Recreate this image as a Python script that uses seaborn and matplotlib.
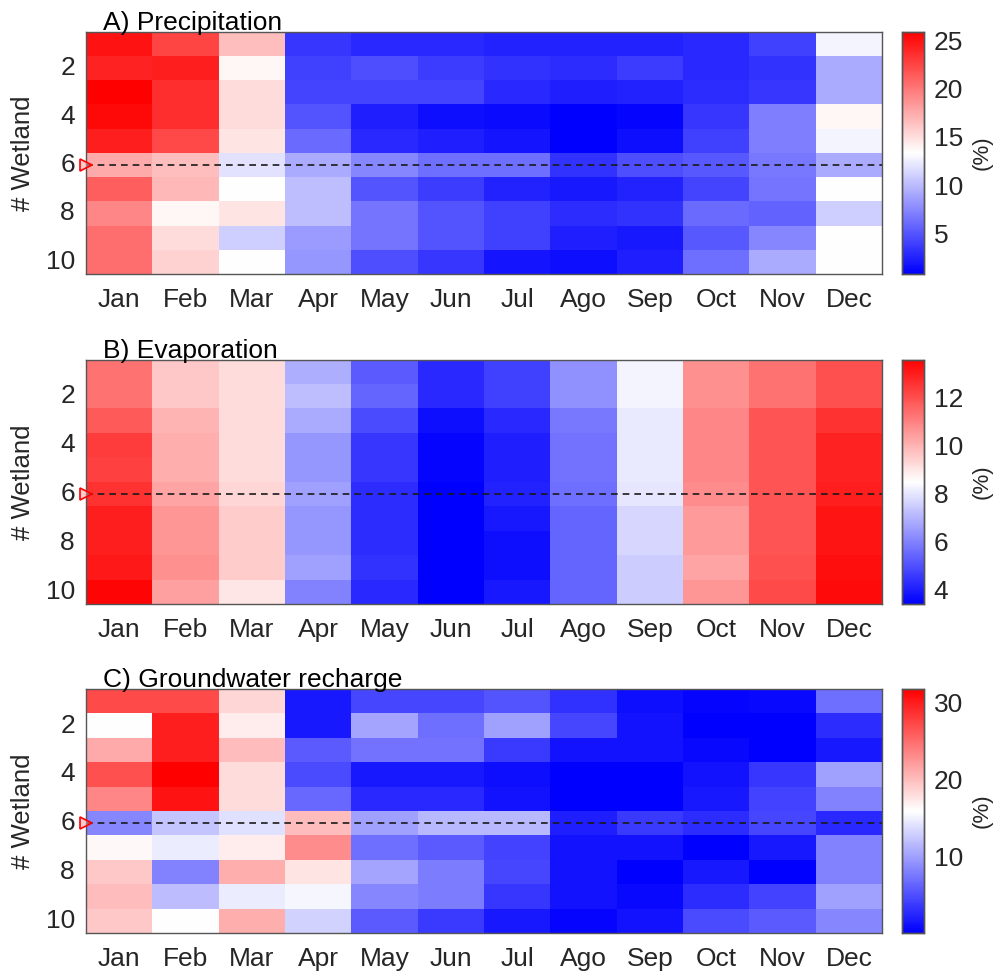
import numpy as np
import pandas as pd
import matplotlib
matplotlib.use("Agg")
import matplotlib.pyplot as plt
import seaborn as sns

sns.set_style("white")
plt.rcParams['font.family'] = ['Liberation Sans', 'DejaVu Sans']

months = ["Jan", "Feb", "Mar", "Apr", "May", "Jun", "Jul", "Ago", "Sep", "Oct", "Nov", "Dec"]
wetlands = list(range(1, 11))

# Each list is one month (column), values for wetlands 1..10 (rows)
precip_jan = [25.0, 24.2, 25.9, 25.5, 24.4, 17.5, 21.2, 19.3, 20.5, 20.5]
precip_feb = [22.5, 24.4, 23.6, 23.6, 22.3, 16.5, 16.8, 13.8, 15.1, 15.6]
precip_mar = [16.5, 13.8, 15.1, 15.1, 14.7, 11.9, 13.3, 14.7, 10.9, 13.4]
precip_apr = [3.5, 4.0, 4.2, 5.0, 6.0, 9.2, 10.2, 10.2, 8.4, 8.2]
precip_may = [2.8, 4.7, 4.2, 2.3, 2.8, 7.4, 5.0, 6.5, 6.5, 4.7]
precip_jun = [2.8, 3.8, 4.2, 1.5, 2.3, 6.2, 3.8, 5.0, 5.0, 3.5]
precip_jul = [2.5, 3.3, 2.8, 1.3, 1.8, 6.2, 2.5, 4.0, 4.0, 1.8]
precip_ago = [2.5, 3.0, 2.3, 0.8, 0.8, 3.3, 2.0, 3.0, 2.3, 1.5]
precip_sep = [2.5, 3.8, 2.5, 1.0, 1.5, 4.7, 2.5, 3.3, 2.0, 2.3]
precip_oct = [2.8, 2.8, 3.0, 3.5, 4.0, 5.2, 4.2, 6.0, 5.2, 6.2]
precip_nov = [4.0, 3.3, 3.5, 7.0, 7.0, 6.7, 6.5, 5.7, 7.4, 9.2]
precip_dec = [12.8, 9.2, 9.2, 13.8, 12.8, 9.2, 13.3, 10.9, 13.4, 13.4]

evap_jan = [11.3, 11.3, 11.8, 12.4, 12.3, 12.6, 13.0, 13.0, 13.1, 13.5]
evap_feb = [9.6, 9.6, 10.0, 10.1, 10.1, 10.3, 10.6, 10.6, 10.7, 10.4]
evap_mar = [9.2, 9.2, 9.2, 9.2, 9.2, 9.3, 9.5, 9.5, 9.5, 9.0]
evap_apr = [6.9, 7.2, 6.8, 6.4, 6.4, 6.6, 6.4, 6.4, 6.6, 6.0]
evap_may = [5.2, 5.4, 4.9, 4.5, 4.5, 4.3, 4.3, 4.3, 4.4, 4.2]
evap_jun = [4.2, 4.2, 3.7, 3.5, 3.5, 3.4, 3.4, 3.4, 3.4, 3.4]
evap_jul = [4.7, 4.7, 4.2, 4.0, 4.0, 4.1, 3.9, 3.7, 3.7, 3.9]
evap_ago = [6.3, 6.3, 5.8, 5.7, 5.7, 5.6, 5.4, 5.4, 5.4, 5.4]
evap_sep = [8.3, 8.3, 8.1, 8.1, 8.1, 8.0, 7.7, 7.7, 7.5, 7.5]
evap_oct = [10.7, 10.7, 10.9, 10.9, 10.9, 10.8, 10.5, 10.5, 10.3, 10.6]
evap_nov = [11.3, 11.3, 11.9, 11.9, 11.9, 11.9, 11.9, 11.9, 12.0, 12.1]
evap_dec = [12.0, 12.0, 12.6, 12.9, 12.9, 13.0, 13.2, 13.2, 13.3, 13.4]

gw_jan = [27.1, 15.9, 21.2, 26.8, 23.4, 8.4, 16.3, 19.3, 20.0, 19.3]
gw_feb = [27.1, 29.9, 29.9, 31.8, 30.6, 12.2, 14.7, 8.1, 11.8, 15.9]
gw_mar = [18.4, 17.1, 20.0, 18.1, 18.1, 14.0, 17.1, 20.9, 14.7, 20.9]
gw_apr = [1.6, 1.6, 5.6, 4.7, 6.5, 20.0, 23.1, 17.6, 15.3, 13.1]
gw_may = [4.4, 10.3, 7.2, 1.6, 2.5, 10.0, 6.9, 10.3, 8.4, 5.6]
gw_jun = [4.4, 6.9, 7.2, 1.6, 2.5, 11.5, 5.6, 7.8, 7.8, 3.7]
gw_jul = [5.3, 10.0, 3.7, 0.9, 1.2, 11.5, 4.1, 4.4, 3.4, 1.6]
gw_ago = [3.1, 4.4, 1.2, 0.0, 0.0, 1.9, 1.2, 1.2, 1.2, 0.3]
gw_sep = [0.9, 1.2, 1.2, 0.0, 0.0, 3.7, 1.2, 0.0, 0.6, 1.2]
gw_oct = [0.3, 0.0, 0.6, 1.2, 1.6, 2.8, 0.0, 1.6, 2.8, 4.7]
gw_nov = [0.6, 0.0, 0.0, 3.4, 4.1, 4.4, 1.6, 0.0, 4.1, 5.6]
gw_dec = [6.9, 2.8, 1.6, 10.0, 8.1, 2.5, 8.1, 8.1, 10.0, 8.4]

precip_cols = [precip_jan, precip_feb, precip_mar, precip_apr, precip_may, precip_jun,
               precip_jul, precip_ago, precip_sep, precip_oct, precip_nov, precip_dec]
evap_cols = [evap_jan, evap_feb, evap_mar, evap_apr, evap_may, evap_jun,
             evap_jul, evap_ago, evap_sep, evap_oct, evap_nov, evap_dec]
gw_cols = [gw_jan, gw_feb, gw_mar, gw_apr, gw_may, gw_jun,
           gw_jul, gw_ago, gw_sep, gw_oct, gw_nov, gw_dec]

titles = ["A) Precipitation", "B) Evaporation", "C) Groundwater recharge"]
ranges = [(0.8, 25.9), (3.4, 13.6), (0.0, 31.8)]
cbar_ticks = [[5, 10, 15, 20, 25], [4, 6, 8, 10, 12], [10, 20, 30]]
ytick_vals = [2, 4, 6, 8, 10]
highlight_wetland = 6

W, H = 998, 977
fig = plt.figure(figsize=(W / 100, H / 100), dpi=100)

panels_px = [(31.7, 274.0), (359.5, 604.0), (689.0, 933.0)]
ax_left, ax_right = 86, 882
cb_left, cb_right = 902, 924

tick_color = "#262626"
spine_color = "#555555"
fs = 19

for i, cols in enumerate([precip_cols, evap_cols, gw_cols]):
    top, bot = panels_px[i]
    ax = fig.add_axes([ax_left / W, 1 - bot / H, (ax_right - ax_left) / W, (bot - top) / H])
    cax = fig.add_axes([cb_left / W, 1 - bot / H, (cb_right - cb_left) / W, (bot - top) / H])
    df = pd.DataFrame(np.array(cols).T, index=wetlands, columns=months)
    vmin, vmax = ranges[i]
    sns.heatmap(df, ax=ax, cmap="bwr", vmin=vmin, vmax=vmax, cbar_ax=cax,
                linewidths=0, square=False)
    # ticks
    ax.set_xticks(np.arange(len(months)) + 0.5)
    ax.set_xticklabels(months, rotation=0)
    ax.set_yticks([v - 0.5 for v in ytick_vals])
    ax.set_yticklabels([str(v) for v in ytick_vals], rotation=0)
    ax.tick_params(axis='both', which='both', direction='in', length=7, width=1.0,
                   color="#444444", labelcolor=tick_color, labelsize=fs,
                   top=True, right=True, bottom=True, left=True)
    ax.tick_params(axis='x', pad=10)
    ax.tick_params(axis='y', pad=8)
    for sp in ax.spines.values():
        sp.set_visible(True)
        sp.set_color(spine_color)
        sp.set_linewidth(1.0)
    ax.set_xlabel("")
    ax.set_ylabel("# Wetland", fontsize=18.5, color=tick_color, labelpad=8)
    ax.text(0.021, 1.008, titles[i], transform=ax.transAxes, fontsize=fs,
            color="black", ha="left", va="baseline")
    # highlighted wetland
    yline = highlight_wetland - 0.5
    ax.axhline(yline, color="#1a1a1a", linestyle=(0, (4, 3)), linewidth=1.2)
    ax.plot([0.0], [yline], marker=">", markersize=9, markerfacecolor=(1, 0.6, 0.6, 0.5),
            markeredgecolor="red", markeredgewidth=1.2, clip_on=False, zorder=5)
    # colorbar
    cax.set_yticks(cbar_ticks[i])
    cax.tick_params(axis='y', direction='in', length=4, width=1.0, color="#444444",
                    labelcolor=tick_color, labelsize=fs, pad=7)
    for sp in cax.spines.values():
        sp.set_visible(True)
        sp.set_color(spine_color)
        sp.set_linewidth(1.0)
    cax.set_ylabel("")
    fig.text(982 / W, 1 - (top + bot) / 2 / H, "(%)", rotation=90, fontsize=16,
             color=tick_color, ha="center", va="center")

fig.savefig("out.png", dpi=100)
